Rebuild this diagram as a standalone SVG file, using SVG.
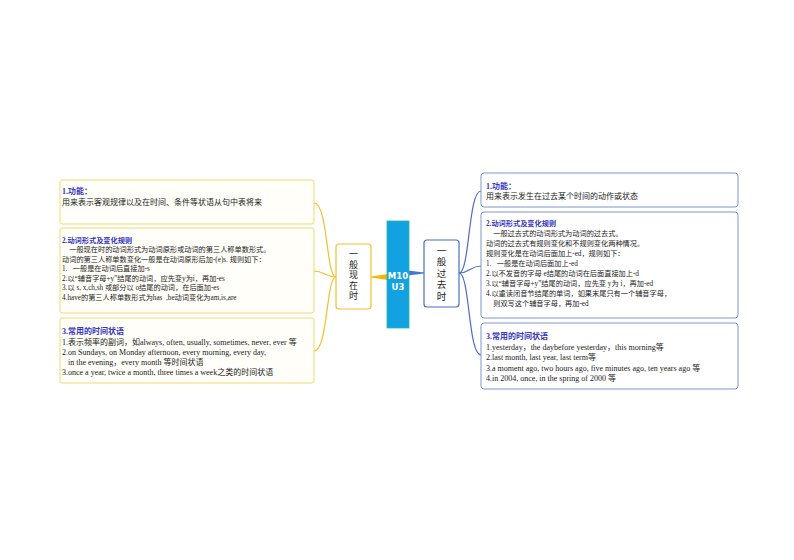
<svg xmlns="http://www.w3.org/2000/svg" width="794" height="560" viewBox="0 0 794 560">
<style>
.t{font-family:"Liberation Serif","Noto Sans CJK SC",serif;fill:#222;}
.s7{font-size:7.2px;}
.s8{font-size:8px;}
.h{fill:#3535c0;font-weight:bold;}
.ybox{fill:#fffef8;stroke:#f3d873;stroke-width:1;}
.bbox{fill:#ffffff;stroke:#7f97c9;stroke-width:1;}
.yc{fill:none;stroke:#efc22a;stroke-width:1.2;}
.bc{fill:none;stroke:#4a6fc0;stroke-width:1.2;}
.nt{font-family:"Noto Sans CJK SC","Noto Sans CJK JP",sans-serif;fill:#222;text-anchor:middle;writing-mode:vertical-rl;}
</style>
<rect width="794" height="560" fill="#ffffff"/>
<g id="connectors">
<path class="yc" d="M336,277 C326,277 328,203 314,203"/>
<path class="yc" d="M336,277 C326,277 324,271 314,271"/>
<path class="yc" d="M336,277 C326,277 328,351 314,351"/>
<path class="bc" d="M459,273 C470,273 468,191 481,191"/>
<path class="bc" d="M459,273 C470,273 470,266 481,266"/>
<path class="bc" d="M459,273 C470,273 468,355 481,355"/>
<polygon points="388,274 388,280 371,277.5 371,276.5" fill="#f5b800"/>
<polygon points="408,270.5 408,275.5 424,273.6 424,272.4" fill="#3f78d8"/>
</g>
<g id="center">
<rect x="387" y="221" width="22" height="107" fill="#12a2e2" stroke="#22b8a8" stroke-width="0.8"/>
<text x="398" y="279" font-family="DejaVu Sans" font-weight="bold" font-size="8.5" fill="#ffffff" text-anchor="middle">M10</text>
<text x="398" y="290" font-family="DejaVu Sans" font-weight="bold" font-size="8.5" fill="#ffffff" text-anchor="middle">U3</text>
</g>
<g id="present">
<rect x="336" y="244" width="35" height="65" rx="3" fill="#ffffff" stroke="#efc22a" stroke-width="1.2"/>
<text class="nt" font-size="9" letter-spacing="1.5" x="353.5" y="275.5">一般现在时</text>
</g>
<g id="past">
<rect x="424" y="240" width="35" height="67" rx="3" fill="#ffffff" stroke="#4a6fc0" stroke-width="1.2"/>
<text class="nt" font-size="9.5" letter-spacing="2" x="441.5" y="274">一般过去时</text>
</g>
<g id="p-func">
<rect class="ybox" x="60" y="180" width="254" height="44" rx="2"/>
<text class="t s8 h" x="62" y="194">1.功能：</text>
<text class="t s8" x="62" y="205">用来表示客观规律以及在时间、条件等状语从句中表将来</text>
</g>
<g id="p-form">
<rect class="ybox" x="60" y="228" width="254" height="85" rx="2"/>
<text class="t s7 h" x="62" y="242.5">2.动词形式及变化规则</text>
<text class="t s7" x="62" y="252" xml:space="preserve">    一般现在时的动词形式为动词原形或动词的第三人称单数形式。</text>
<text class="t s7" x="62" y="261.5">动词的第三人称单数变化一般是在动词原形后加-(e)s. 规则如下：</text>
<text class="t s7" x="62" y="271" xml:space="preserve">1.   一般是在动词后直接加-s</text>
<text class="t s7" x="62" y="280.5">2.以“辅音字母+y”结尾的动词，应先变y为i，再加-es</text>
<text class="t s7" x="62" y="290">3.以 s, x,ch,sh 或部分以 o结尾的动词，在后面加-es</text>
<text class="t s7" x="62" y="299.5" xml:space="preserve">4.have的第三人称单数形式为has  ,be动词变化为am,is,are</text>
</g>
<g id="p-adv">
<rect class="ybox" x="60" y="318" width="254" height="65" rx="2"/>
<text class="t s8 h" x="62" y="334">3.常用的时间状语</text>
<text class="t s8" x="62" y="345">1.表示频率的副词，如always, often, usually, sometimes, never, ever 等</text>
<text class="t s8" x="62" y="355">2.on Sundays, on Monday afternoon, every morning, every day,</text>
<text class="t s8" x="62" y="365" xml:space="preserve">   in the evening，every month 等时间状语</text>
<text class="t s8" x="62" y="375">3.once a year, twice a month, three times a week之类的时间状语</text>
</g>
<g id="s-func">
<rect class="bbox" x="481" y="173" width="257" height="34" rx="3"/>
<text class="t s8 h" x="486" y="189">1.功能：</text>
<text class="t s8" x="486" y="199">用来表示发生在过去某个时间的动作或状态</text>
</g>
<g id="s-form">
<rect class="bbox" x="481" y="212" width="257" height="106" rx="3"/>
<text class="t s7 h" x="486" y="225.5">2.动词形式及变化规则</text>
<text class="t s7" x="486" y="235.5" xml:space="preserve">    一般过去式的动词形式为动词的过去式。</text>
<text class="t s7" x="486" y="245.5">动词的过去式有规则变化和不规则变化两种情况。</text>
<text class="t s7" x="486" y="255.5">规则变化是在动词后面加上-ed，规则如下：</text>
<text class="t s7" x="486" y="265.5" xml:space="preserve">1.   一般是在动词后面加上-ed</text>
<text class="t s7" x="486" y="275.5">2.以不发音的字母 e结尾的动词在后面直接加上-d</text>
<text class="t s7" x="486" y="285.5">3.以“辅音字母+y”结尾的动词，应先变 y为 i，再加-ed</text>
<text class="t s7" x="486" y="295.5">4.以重读闭音节结尾的单词，如果末尾只有一个辅音字母，</text>
<text class="t s7" x="486" y="305.5" xml:space="preserve">    则双写这个辅音字母，再加-ed</text>
</g>
<g id="s-adv">
<rect class="bbox" x="481" y="323" width="257" height="66" rx="3"/>
<text class="t s8 h" x="486" y="339">3.常用的时间状语</text>
<text class="t s8" x="486" y="350">1.yesterday，the daybefore yesterday，this morning等</text>
<text class="t s8" x="486" y="360">2.last month, last year, last term等</text>
<text class="t s8" x="486" y="371">3.a moment ago, two hours ago, five minutes ago, ten years ago 等</text>
<text class="t s8" x="486" y="381">4.in 2004, once, in the spring of 2000 等</text>
</g>
</svg>
